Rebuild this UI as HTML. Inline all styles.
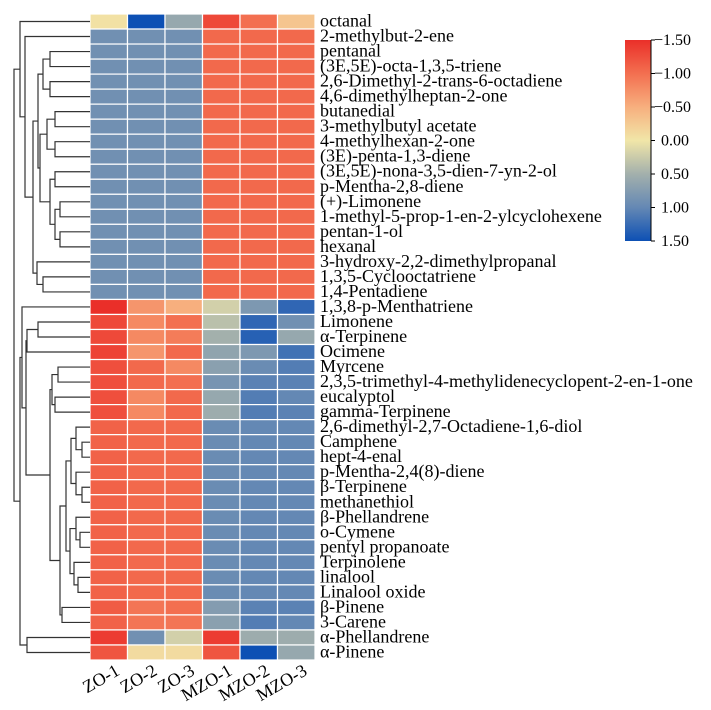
<!DOCTYPE html>
<html><head><meta charset="utf-8"><style>
html,body{margin:0;padding:0;background:#fff;width:711px;height:710px;overflow:hidden}
svg text{font-family:"Liberation Serif",serif}
</style></head><body>
<svg id="chart" width="711" height="710" xmlns="http://www.w3.org/2000/svg"></svg>
<script>
const columns=["ZO-1","ZO-2","ZO-3","MZO-1","MZO-2","MZO-3"];
const rowLabels=["octanal","2-methylbut-2-ene","pentanal","(3E,5E)-octa-1,3,5-triene","2,6-Dimethyl-2-trans-6-octadiene","4,6-dimethylheptan-2-one","butanedial","3-methylbutyl acetate","4-methylhexan-2-one","(3E)-penta-1,3-diene","(3E,5E)-nona-3,5-dien-7-yn-2-ol","p-Mentha-2,8-diene","(+)-Limonene","1-methyl-5-prop-1-en-2-ylcyclohexene","pentan-1-ol","hexanal","3-hydroxy-2,2-dimethylpropanal","1,3,5-Cyclooctatriene","1,4-Pentadiene","1,3,8-p-Menthatriene","Limonene","α-Terpinene","Ocimene","Myrcene","2,3,5-trimethyl-4-methylidenecyclopent-2-en-1-one","eucalyptol","gamma-Terpinene","2,6-dimethyl-2,7-Octadiene-1,6-diol","Camphene","hept-4-enal","p-Mentha-2,4(8)-diene","β-Terpinene","methanethiol","β-Phellandrene","o-Cymene","pentyl propanoate","Terpinolene","linalool","Linalool oxide","β-Pinene","3-Carene","α-Phellandrene","α-Pinene"];
const values=[
[0.05,-1.5,-0.6,1.3,1.0,0.3],
[-0.9,-0.9,-0.9,1.05,1.05,1.05],[-0.9,-0.9,-0.9,1.05,1.05,1.05],[-0.9,-0.9,-0.9,1.05,1.05,1.05],
[-0.9,-0.9,-0.9,1.05,1.05,1.05],[-0.9,-0.9,-0.9,1.05,1.05,1.05],[-0.9,-0.9,-0.9,1.05,1.05,1.05],
[-0.9,-0.9,-0.9,1.05,1.05,1.05],[-0.9,-0.9,-0.9,1.05,1.05,1.05],[-0.9,-0.9,-0.9,1.05,1.05,1.05],
[-0.9,-0.9,-0.9,1.05,1.05,1.05],[-0.9,-0.9,-0.9,1.05,1.05,1.05],[-0.9,-0.9,-0.9,1.05,1.05,1.05],
[-0.9,-0.9,-0.9,1.05,1.05,1.05],[-0.9,-0.9,-0.9,1.05,1.05,1.05],[-0.9,-0.9,-0.9,1.05,1.05,1.05],
[-0.9,-0.9,-0.9,1.05,1.05,1.05],[-0.9,-0.9,-0.9,1.05,1.05,1.05],[-0.9,-0.9,-0.9,1.05,1.05,1.05],
[1.5,0.7,0.5,-0.2,-0.8,-1.3],
[1.3,0.8,1.0,-0.35,-1.3,-0.9],
[1.3,0.8,0.9,-0.5,-1.35,-0.6],
[1.35,0.7,1.05,-0.65,-0.8,-1.2],
[1.25,1.05,0.8,-0.7,-0.95,-1.1],
[1.25,1.05,1.0,-0.85,-1.05,-1.05],
[1.25,0.8,1.05,-0.6,-1.1,-1.0],
[1.25,0.8,1.05,-0.55,-1.1,-1.05],
[1.1,1.05,1.05,-0.95,-1.0,-1.0],[1.1,1.05,1.05,-0.95,-1.0,-1.0],[1.1,1.05,1.05,-0.95,-1.0,-1.0],
[1.1,1.05,1.05,-0.95,-1.0,-1.0],[1.1,1.05,1.05,-0.95,-1.0,-1.0],[1.1,1.05,1.05,-0.95,-1.0,-1.0],
[1.1,1.05,1.05,-0.95,-1.0,-1.0],[1.1,1.05,1.05,-0.95,-1.0,-1.0],[1.1,1.05,1.05,-0.95,-1.0,-1.0],
[1.1,1.05,1.05,-0.95,-1.0,-1.0],[1.1,1.05,1.05,-0.95,-1.0,-1.0],[1.1,1.05,1.05,-0.95,-1.0,-1.0],
[1.15,0.95,1.0,-0.75,-1.05,-1.05],
[1.1,0.95,0.95,-0.7,-1.1,-1.0],
[1.4,-0.9,-0.2,1.4,-0.55,-0.55],
[1.2,0.1,0.1,1.2,-1.5,-0.6]];
const cbTickLabels=["−1.50","−1.00","−0.50","0.00","0.50","1.00","1.50"];
const cbTickValues=[1.5,1.0,0.5,0,-0.5,-1.0,-1.5];
// dendrogram: [mergeX, left, right]; leaves are row indices
const tree=[14,
 [20,0,[25,1,[33,[38,[43,[50,2,3],[50,4,5]],[40,[47,[55,6,7],[55,8,9]],[50,[55,10,11],[55,[60,12,13],[60,14,15]]]]],[37,16,[43,17,18]]]]],
 [20,[22,19,[26,[27,[38,20,21],22],[50,[52,[58,23,24],[55,25,26]],[60,[66,[71,[76,27,[82,28,29]],[76,30,[82,31,32]]],[70,[76,33,[80,34,35]],[74,36,[78,37,38]]]],[62,39,40]]]]],[27,41,42]]];

const NS="http://www.w3.org/2000/svg";
const svg=document.getElementById('chart');
function mk(t,a,p){const e=document.createElementNS(NS,t);for(const k in a)e.setAttribute(k,a[k]);(p||svg).appendChild(e);return e;}
const X0=90,X1=315,Y0=14,Y1=660;
const cw=(X1-X0)/columns.length, rh=(Y1-Y0)/rowLabels.length;
const xS=i=>X0+i*cw, yS=i=>Y0+i*rh;
const stops=[[-1.5,[13,80,180]],[-1.0,[100,136,180]],[-0.5,[163,176,172]],[0,[241,230,168]],[0.5,[247,175,126]],[1.0,[243,111,80]],[1.5,[234,47,41]]];
function color(v){v=Math.max(-1.5,Math.min(1.5,v));for(let i=0;i<stops.length-1;i++){const a=stops[i],b=stops[i+1];if(v<=b[0]){const t=(v-a[0])/(b[0]-a[0]);const c=a[1].map((q,j)=>Math.round(q+(b[1][j]-q)*t));return `rgb(${c})`;}}return 'rgb(234,47,41)';}

const cells=mk('g',{});


values.forEach((row,r)=>row.forEach((v,c)=>{
  const e=mk('rect',{x:xS(c),y:yS(r),width:cw,height:rh,fill:color(v),stroke:'#fff','stroke-width':1.2},cells);
  
  
}));
rowLabels.forEach((l,r)=>{
  const t=mk('text',{x:X1+5,y:yS(r)+rh/2+5,'font-size':18,fill:'#000'});
  t.textContent=l;
  
  
});
columns.forEach((l,c)=>{
  const cx=xS(c)+cw/2+12, cy=Y1+14;
  const t=mk('text',{x:cx,y:cy,'font-size':18,'text-anchor':'end',transform:`rotate(-30 ${cx} ${cy})`,fill:'#000'});
  t.textContent=l;
  
  
});
// dendrogram
const dg=mk('g',{stroke:'#333','stroke-width':1.2,fill:'none'});


function draw(n){
  if(typeof n==='number')return {x:X0,y:yS(n)+rh/2};
  const a=draw(n[1]),b=draw(n[2]),x=n[0];
  mk('path',{d:`M${a.x},${a.y}H${x}V${b.y}H${b.x}`},dg);
  return {x:x,y:(a.y+b.y)/2};
}
draw(tree);
// colorbar
const CB={x:625,w:26,y0:40,y1:241};
const defs=mk('defs',{});
const lg=mk('linearGradient',{id:'cbg',x1:0,y1:0,x2:0,y2:1},defs);
stops.slice().reverse().forEach((s,i)=>mk('stop',{offset:i/(stops.length-1),'stop-color':color(s[0])},lg));
const cb=mk('g',{});


mk('rect',{x:CB.x,y:CB.y0,width:CB.w,height:CB.y1-CB.y0,fill:'url(#cbg)'},cb);
mk('line',{x1:CB.x+CB.w,y1:CB.y0,x2:CB.x+CB.w,y2:CB.y1,stroke:'#000','stroke-width':1},cb);
const cbY=v=>CB.y0+(1.5-v)/3*(CB.y1-CB.y0);
cbTickValues.forEach((v,i)=>{
  const y=cbY(v);
  mk('line',{x1:CB.x+CB.w,y1:y,x2:CB.x+CB.w+4,y2:y,stroke:'#000'},cb);
  const t=mk('text',{x:CB.x+CB.w+(cbTickLabels[i][0]==='−'?3:10),y:y+5,'font-size':16,fill:'#000'},cb);
  t.textContent=cbTickLabels[i];
  
  
});
</script>
</body></html>
